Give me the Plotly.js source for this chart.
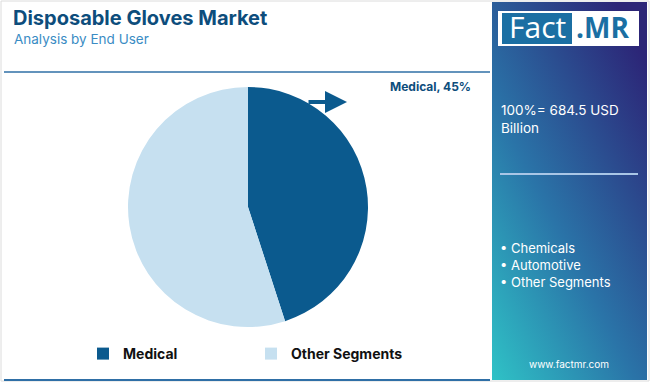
<!DOCTYPE html>
<html><head><meta charset="utf-8">
<script src="https://cdn.plot.ly/plotly-3.0.1.min.js"></script>
<style>html,body{margin:0;padding:0;background:#fff}#chart{width:650px;height:382px}</style>
</head><body><div id="chart"></div>
<script>
const categories = ["Medical", "Other Segments"];
const shares = [45, 55];
const sliceColors = ["#0b5a8e", "#c6e0f0"];
const titleText = "Disposable Gloves Market";
const subtitleText = "Analysis by End User";
const marketSize = "100%= 684.5 USD<br>Billion";
const otherList = ["Chemicals", "Automotive", "Other Segments"];
const calloutText = "Medical, 45%";

const W = 650, H = 382;
const px = v => v / W, py = v => 1 - v / H;

const grad = 'data:image/svg+xml;utf8,' + encodeURIComponent(
 '<svg xmlns="http://www.w3.org/2000/svg" width="155" height="378" viewBox="0 0 155 378" preserveAspectRatio="none">' +
 '<defs><linearGradient id="g" x1="0" y1="1" x2="0.8" y2="0">' +
 '<stop offset="0" stop-color="#2fc2c6"/><stop offset="0.45" stop-color="#2a74a8"/><stop offset="1" stop-color="#2c2577"/>' +
 '</linearGradient></defs><rect width="155" height="378" fill="url(#g)"/></svg>');

const data = [{
  type: "pie",
  labels: categories,
  values: shares,
  marker: {colors: sliceColors, line: {width: 0}},
  sort: false,
  direction: "clockwise",
  rotation: 0,
  textinfo: "none",
  hoverinfo: "label+percent",
  domain: {x: [px(128), px(368)], y: [py(327), py(87)]},
  showlegend: true
}];

const annotations = [
  {text: "<b>" + titleText + "</b>", x: px(11), y: py(18), xref: "paper", yref: "paper", xanchor: "left", yanchor: "middle", showarrow: false, font: {family: "Inter, 'Open Sans', sans-serif", size: 20, color: "#0d4d7c"}},
  {text: subtitleText, x: px(12), y: py(39), xref: "paper", yref: "paper", xanchor: "left", yanchor: "middle", showarrow: false, font: {family: "Inter, 'Open Sans', sans-serif", size: 13.5, color: "#3a8cc4"}},
  {text: "<b>" + calloutText + "</b>", x: px(473), y: py(87), xref: "paper", yref: "paper", xanchor: "right", yanchor: "middle", showarrow: false, font: {family: "Inter, 'Open Sans', sans-serif", size: 12, color: "#0d4d7c"}},
  {text: "", x: px(347), y: py(102), ax: px(307), ay: py(102), xref: "paper", yref: "paper", axref: "paper", ayref: "paper", showarrow: true, arrowhead: 2, arrowsize: 1.1, arrowwidth: 4, arrowcolor: "#0b5a8e"},
  {text: "Fact", x: px(537), y: py(27), xref: "paper", yref: "paper", xanchor: "center", yanchor: "middle", showarrow: false, font: {family: "'Open Sans', sans-serif", size: 30, color: "#ffffff"}},
  {text: "<b>.MR</b>", x: px(574), y: py(27), xref: "paper", yref: "paper", xanchor: "left", yanchor: "middle", showarrow: false, font: {family: "'Open Sans', sans-serif", size: 28, color: "#1b6fa3"}},
  {text: marketSize, x: px(499), y: py(119), xref: "paper", yref: "paper", xanchor: "left", yanchor: "middle", align: "left", showarrow: false, font: {family: "Inter, 'Open Sans', sans-serif", size: 13.5, color: "#ffffff"}},
  {text: otherList.map(s => "\u2022 " + s).join("<br>"), x: px(498), y: py(265), xref: "paper", yref: "paper", xanchor: "left", yanchor: "middle", align: "left", showarrow: false, font: {family: "Inter, 'Open Sans', sans-serif", size: 13, color: "#ffffff"}},
  {text: "www.factmr.com", x: px(569), y: py(364), xref: "paper", yref: "paper", xanchor: "center", yanchor: "middle", showarrow: false, font: {family: "Inter, 'Open Sans', sans-serif", size: 10, color: "#ffffff"}}
];

const shapes = [
  {type: "rect", xref: "paper", yref: "paper", x0: px(1), x1: px(649), y0: py(381), y1: py(1), line: {color: "#dcdcdc", width: 1}, fillcolor: "rgba(0,0,0,0)", layer: "below"},
  {type: "line", xref: "paper", yref: "paper", x0: px(4), x1: px(490), y0: py(72), y1: py(72), line: {color: "#2f6fa6", width: 1.5}},
  {type: "line", xref: "paper", yref: "paper", x0: px(4), x1: px(490), y0: py(380), y1: py(380), line: {color: "#2f6fa6", width: 2}},
  {type: "rect", xref: "paper", yref: "paper", x0: px(498), x1: px(639), y0: py(46), y1: py(11), fillcolor: "#ffffff", line: {width: 0}},
  {type: "rect", xref: "paper", yref: "paper", x0: px(502), x1: px(572), y0: py(44), y1: py(13), fillcolor: "#1b6fa3", line: {width: 0}},
  {type: "line", xref: "paper", yref: "paper", x0: px(500), x1: px(638), y0: py(174), y1: py(174), line: {color: "#a9c6e6", width: 2}}
];

const layout = {
  width: W, height: H,
  margin: {l: 0, r: 0, t: 0, b: 0},
  paper_bgcolor: "#ffffff",
  plot_bgcolor: "#ffffff",
  showlegend: true,
  legend: {orientation: "h", x: px(83), y: py(354), xanchor: "left", yanchor: "middle", entrywidth: 123, entrywidthmode: "pixels", itemwidth: 30, font: {family: "Inter, 'Open Sans', sans-serif", size: 14, color: "#111111", weight: "bold"}, bgcolor: "rgba(0,0,0,0)", traceorder: "normal"},
  images: [{source: grad, xref: "paper", yref: "paper", x: px(492), y: py(2), sizex: px(155), sizey: 378 / H, xanchor: "left", yanchor: "top", sizing: "stretch", layer: "below"}],
  annotations: annotations,
  shapes: shapes
};

Plotly.newPlot("chart", data, layout, {displayModeBar: false, staticPlot: true});
</script></body></html>
